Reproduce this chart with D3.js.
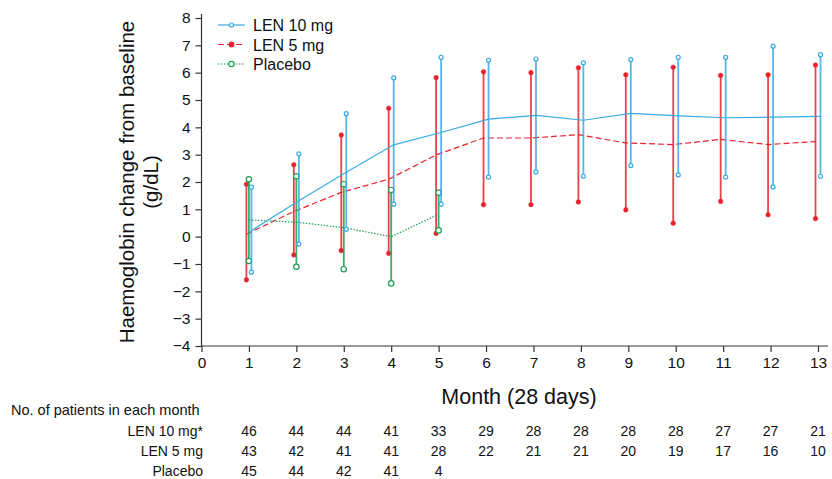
<html>
<head>
<script src="https://d3js.org/d3.v7.min.js"></script>
<style>
body { margin: 0; background: #fff; }
text { font-family: Arial, "Liberation Sans", sans-serif; fill: #111; }
</style>
</head>
<body>
<svg width="832" height="479"></svg>
<script>
var months = [1,2,3,4,5,6,7,8,9,10,11,12,13];

var len10Mean = [0.22,1.31,2.36,3.36,3.81,4.30,4.44,4.26,4.51,4.42,4.35,4.37,4.40];
var len10Hi   = [1.81,3.03,4.50,5.81,6.56,6.45,6.50,6.36,6.48,6.56,6.56,6.97,6.66];
var len10Lo   = [-1.30,-0.27,0.27,1.19,1.19,2.18,2.37,2.21,2.60,2.26,2.18,1.82,2.21];

var len5Mean = [0.09,0.92,1.62,2.10,2.99,3.61,3.61,3.73,3.43,3.37,3.56,3.37,3.48];
var len5Hi   = [1.92,2.63,3.72,4.70,5.82,6.03,6.00,6.18,5.92,6.20,5.90,5.92,6.28];
var len5Lo   = [-1.58,-0.67,-0.51,-0.61,0.12,1.17,1.17,1.27,0.98,0.49,1.29,0.80,0.66];

var placeboMonths = [1,2,3,4,5];
var placeboMean = [0.61,0.53,0.33,0.0,0.82];
var placeboHi   = [2.10,2.21,1.92,1.71,1.61];
var placeboLo   = [-0.89,-1.10,-1.19,-1.71,0.23];

var nLen10   = [46,44,44,41,33,29,28,28,28,28,27,27,21];
var nLen5    = [43,42,41,41,28,22,21,21,20,19,17,16,10];
var nPlacebo = [45,44,42,41,4];

var seriesNames = ["LEN 10 mg", "LEN 5 mg", "Placebo"];
var yTicks = [-4,-3,-2,-1,0,1,2,3,4,5,6,7,8];
var xTicks = [0,1,2,3,4,5,6,7,8,9,10,11,12,13];

var blue = "#3aaae2", red = "#e8212c", green = "#1c9e52";

var svg = d3.select("svg");
var x = d3.scaleLinear().domain([0,13]).range([201.5,818]);
var y = d3.scaleLinear().domain([-4,8]).range([346,18]);

// axes
var yAxis = svg.append("g").attr("transform","translate(201.5,0)")
  .call(d3.axisLeft(y).tickValues(yTicks).tickSize(6).tickPadding(5)
        .tickFormat(function(d){ return d < 0 ? "\u2212" + Math.abs(d) : d; }));
yAxis.select(".domain").attr("d","M0,14V346");
var xAxis = svg.append("g").attr("transform","translate(0,346)")
  .call(d3.axisBottom(x).tickValues(xTicks).tickSize(6).tickPadding(5));
xAxis.select(".domain").attr("d","M201.5,0H828");
svg.selectAll(".tick text").style("font-size","15.5px").style("font-family","Arial, 'Liberation Sans', sans-serif").attr("fill","#111");
svg.selectAll(".domain, .tick line").attr("stroke","#333").attr("stroke-width",1.2);

svg.append("text").attr("transform","translate(134,182) rotate(-90)")
  .attr("text-anchor","middle").style("font-size","20.5px").text("Haemoglobin change from baseline");
svg.append("text").attr("transform","translate(158,182) rotate(-90)")
  .attr("text-anchor","middle").style("font-size","20.5px").text("(g/dL)");
svg.append("text").attr("x",519).attr("y",404).attr("text-anchor","middle")
  .style("font-size","21.5px").text("Month (28 days)");

function series(xs, mean, hi, lo, color, dx, dash, marker) {
  var g = svg.append("g");
  var pts = xs.map(function(m,i){ return {m:m, mean:mean[i], hi:hi[i], lo:lo[i]}; });
  g.selectAll("line.err").data(pts).enter().append("line")
    .attr("x1", function(d){ return x(d.m)+dx; }).attr("x2", function(d){ return x(d.m)+dx; })
    .attr("y1", function(d){ return y(d.hi); }).attr("y2", function(d){ return y(d.lo); })
    .attr("stroke", color).attr("stroke-width", 1.8).attr("opacity", 0.85);
  var line = d3.line()
    .x(function(d){ return x(d.m)+dx; }).y(function(d){ return y(d.mean); });
  g.append("path").datum(pts).attr("d", line).attr("fill","none")
    .attr("stroke", color).attr("stroke-width", 1.2).attr("stroke-dasharray", dash);
  var ends = [];
  pts.forEach(function(d){ ends.push({m:d.m, v:d.hi}); ends.push({m:d.m, v:d.lo}); });
  g.selectAll("circle").data(ends).enter().append("circle")
    .attr("cx", function(d){ return x(d.m)+dx; }).attr("cy", function(d){ return y(d.v); })
    .attr("r", marker.r).attr("fill", marker.fill).attr("stroke", color).attr("stroke-width", marker.sw);
}

series(months, len5Mean, len5Hi, len5Lo, red, -2.5, "6,3", {r:2.3, fill:red, sw:0.5});
series(placeboMonths, placeboMean, placeboHi, placeboLo, green, 0, "1.5,1.5", {r:2.7, fill:"#fff", sw:1.2});
series(months, len10Mean, len10Hi, len10Lo, blue, 2.5, null, {r:2, fill:"#fff", sw:1.2});

// legend
var legColors = [blue, red, green], legDash = [null, "6,3", "1.5,1.5"];
var legMarker = [{r:2, fill:"#fff"}, {r:2.3, fill:red}, {r:2.7, fill:"#fff"}];
var leg = svg.append("g");
seriesNames.forEach(function(name, i){
  var ly = 25 + i*19.5;
  leg.append("line").attr("x1",218).attr("x2",245).attr("y1",ly).attr("y2",ly)
    .attr("stroke", legColors[i]).attr("stroke-width",1.2).attr("stroke-dasharray", legDash[i]);
  leg.append("circle").attr("cx",231.5).attr("cy",ly).attr("r",legMarker[i].r)
    .attr("fill",legMarker[i].fill).attr("stroke",legColors[i]).attr("stroke-width",1.2);
  leg.append("text").attr("x",253).attr("y",ly+6).style("font-size","16px").text(name);
});

// patient numbers table
var tbl = svg.append("g");
tbl.append("text").attr("x",11).attr("y",415).style("font-size","14.5px").text("No. of patients in each month");
var rows = [{label:"LEN 10 mg*", n:nLen10}, {label:"LEN 5 mg", n:nLen5}, {label:"Placebo", n:nPlacebo}];
rows.forEach(function(r, i){
  var ry = 436 + i*20;
  tbl.append("text").attr("x",203).attr("y",ry).attr("text-anchor","end").style("font-size","14px").text(r.label);
  tbl.selectAll(null).data(r.n).enter().append("text")
    .attr("x", function(d,j){ return x(months[j]); }).attr("y", ry)
    .attr("text-anchor","middle").style("font-size","14px").text(function(d){ return d; });
});
</script>
</body>
</html>
